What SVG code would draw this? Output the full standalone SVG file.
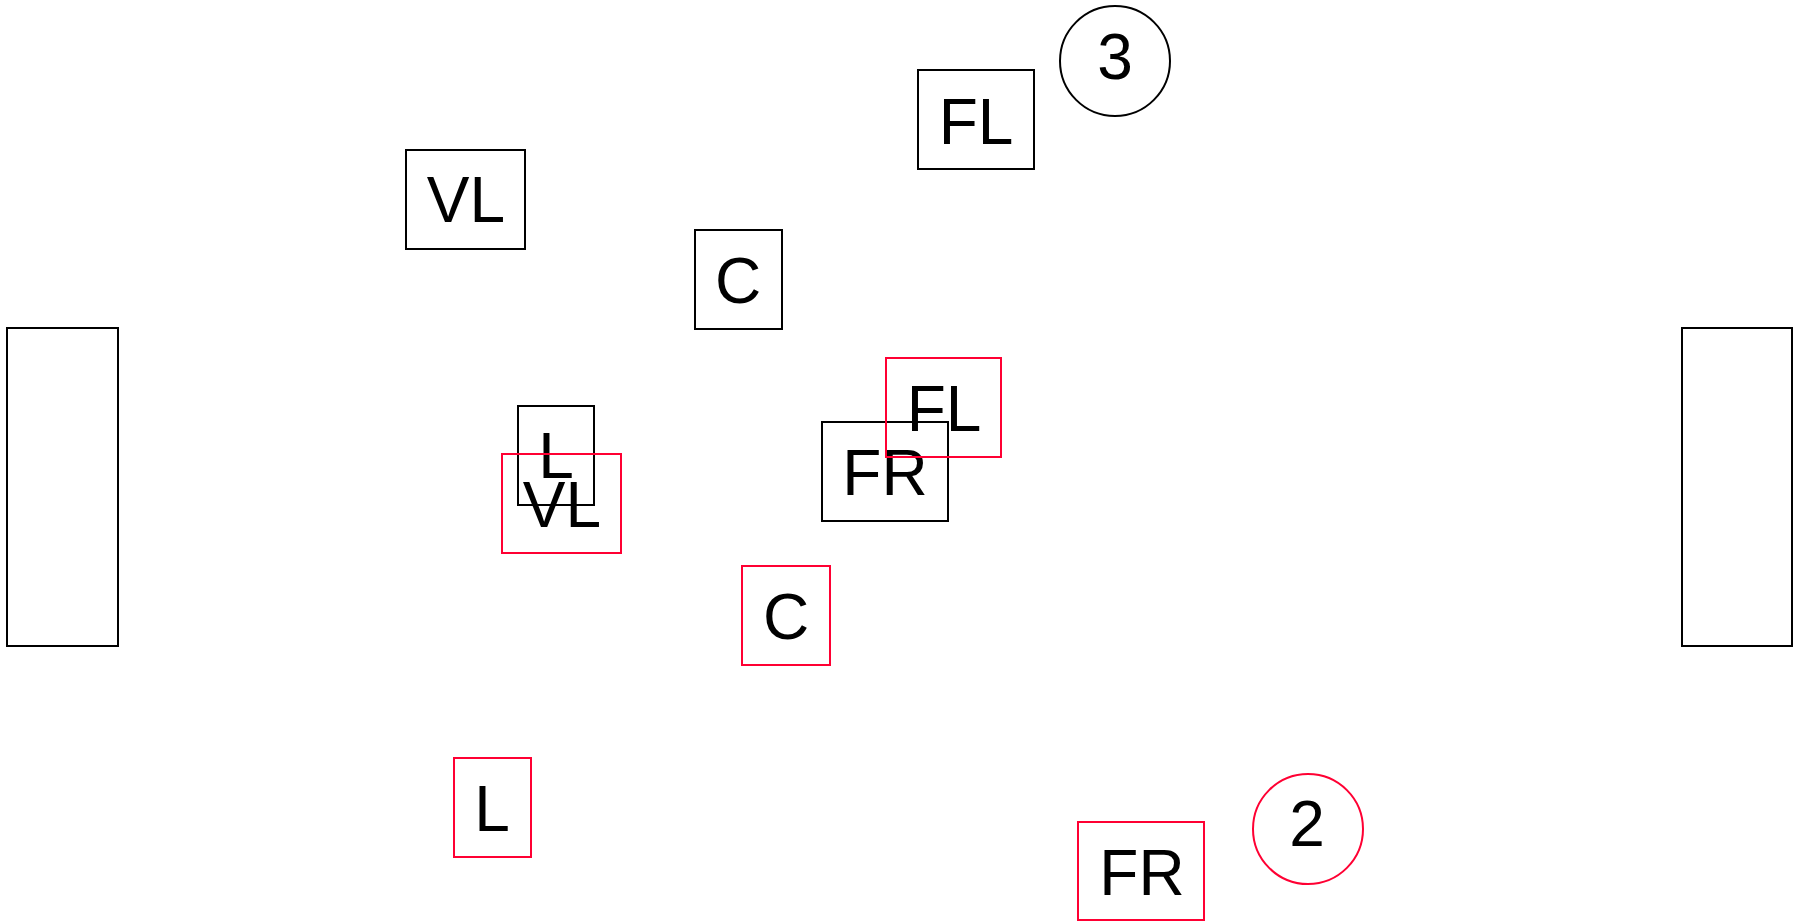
<svg xmlns="http://www.w3.org/2000/svg" width="1806" height="923" viewBox="0 0 1806 923">
<style>
.b{fill:none;stroke:#000;stroke-width:2}
.r{fill:none;stroke:#ff0033;stroke-width:2}
text{font-family:"Liberation Sans",Arial,sans-serif;font-size:64px;fill:#000;text-anchor:middle}
</style>
<rect width="1806" height="923" fill="#fff"/>
<g id="wall-left"><rect class="b" x="7" y="328" width="111" height="318"/></g>
<g id="wall-right"><rect class="b" x="1682" y="328" width="110" height="318"/></g>
<g id="black-VL"><rect class="b" x="406" y="150" width="119" height="99"/><text x="466" y="222">VL</text></g>
<g id="black-C"><rect class="b" x="695" y="230" width="87" height="99"/><text x="738" y="303">C</text></g>
<g id="black-FL"><rect class="b" x="918" y="70" width="116" height="99"/><text x="976" y="144">FL</text></g>
<g id="black-3"><circle class="b" cx="1115" cy="61" r="55"/><text x="1115" y="79">3</text></g>
<g id="black-L"><rect class="b" x="518" y="406" width="76" height="99"/><text x="556" y="478">L</text></g>
<g id="black-FR"><rect class="b" x="822" y="422" width="126" height="99"/><text x="885" y="495">FR</text></g>
<g id="red-FL"><rect class="r" x="886" y="358" width="115" height="99"/><text x="944" y="431">FL</text></g>
<g id="red-VL"><rect class="r" x="502" y="454" width="119" height="99"/><text x="562" y="527">VL</text></g>
<g id="red-C"><rect class="r" x="742" y="566" width="88" height="99"/><text x="786" y="639">C</text></g>
<g id="red-L"><rect class="r" x="454" y="758" width="77" height="99"/><text x="492" y="831">L</text></g>
<g id="red-FR"><rect class="r" x="1078" y="822" width="126" height="98"/><text x="1142" y="895">FR</text></g>
<g id="red-2"><circle class="r" cx="1308" cy="829" r="55"/><text x="1307" y="846">2</text></g>
<g id="connectors"></g>
</svg>
